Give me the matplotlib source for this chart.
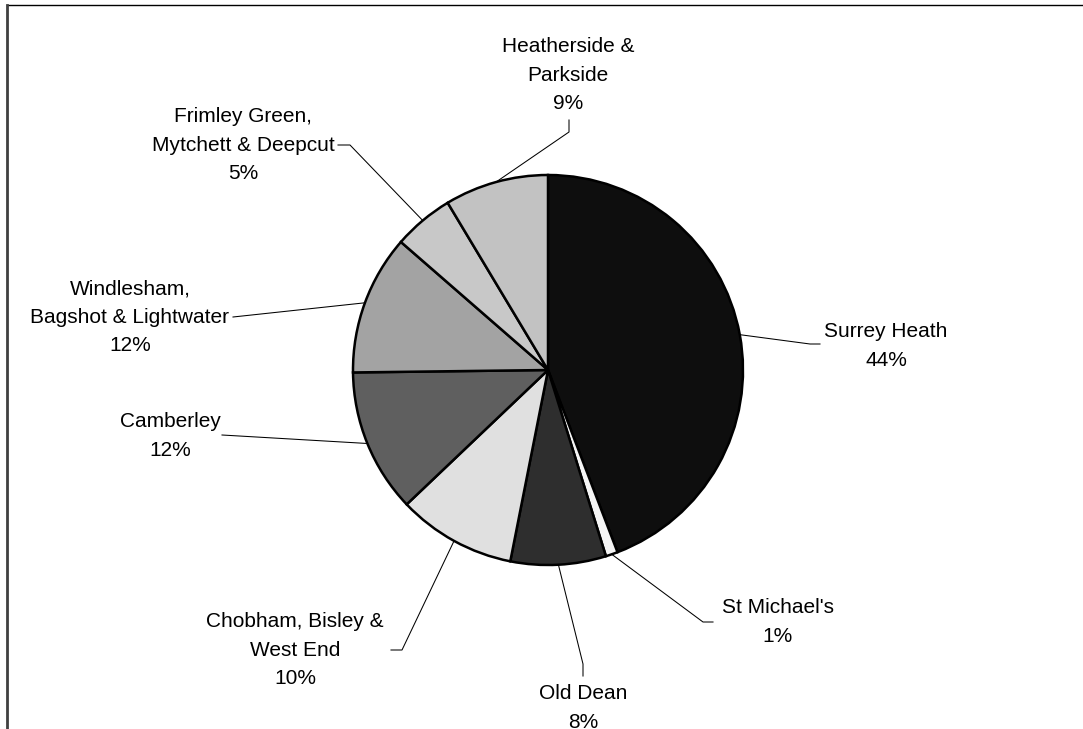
import matplotlib
matplotlib.use("Agg")
import matplotlib.pyplot as plt
import numpy as np
from matplotlib.lines import Line2D

# ward shares (percent), clockwise from 12 o'clock
wards = ["Surrey Heath", "St Michael's", "Old Dean", "Chobham, Bisley &\nWest End",
         "Camberley", "Windlesham,\nBagshot & Lightwater", "Frimley Green,\nMytchett & Deepcut",
         "Heatherside &\nParkside"]
shares = [44.2, 1.0, 7.9, 9.8, 11.9, 11.6, 5.0, 8.6]
greys = ["#0e0e0e", "#f4f4f4", "#2e2e2e", "#e0e0e0", "#5f5f5f", "#a3a3a3", "#c8c8c8", "#c2c2c2"]

W, H = 1083, 729
fig = plt.figure(figsize=(W / 100, H / 100), dpi=100)
ax = fig.add_axes([0, 0, 1, 1])

cx, cy, r = 548, 370, 195
# y axis is inverted below, so counterclock in data = clockwise on screen
wedges, _ = ax.pie(shares, colors=greys, startangle=270, counterclock=True,
                   center=(cx, cy), radius=r, frame=True,
                   wedgeprops=dict(edgecolor="black", linewidth=1.8))
ax.set_xlim(0, W)
ax.set_ylim(H, 0)  # pixel-like coordinates, y down
ax.set_aspect("equal")
ax.axis("off")

# label layout: text centre, elbow point, end of short tick next to the text
layout = [
    ((886, 346), (810, 344), (820, 344)),
    ((778, 622), (703, 622), (713, 622)),
    ((583, 708), (583, 664), (583, 676)),
    ((295, 650), (402, 650), (391, 650)),
    ((170, 436), None, (222, 435)),
    ((130, 317), None, (233, 317)),
    ((243, 145), (350, 145), (338, 145)),
    ((568, 75), (569, 132), (569, 120)),
]

for w, name, val, (txt, elbow, tick) in zip(wedges, wards, shares, layout):
    mid = np.deg2rad((w.theta1 + w.theta2) / 2)
    px, py = cx + r * np.cos(mid), cy + r * np.sin(mid)
    if elbow is None:
        xs, ys = [px, tick[0]], [py, tick[1]]
    else:
        xs, ys = [px, elbow[0], tick[0]], [py, elbow[1], tick[1]]
    ax.add_line(Line2D(xs, ys, color="black", linewidth=0.75))
    ax.text(txt[0], txt[1], f"{name}\n{val:.0f}%", ha="center", va="center",
            fontsize=15, family="Liberation Sans", linespacing=1.62)

# chart area border (only top and left visible)
fig.add_artist(Line2D([7 / W, 1], [1 - 5 / H, 1 - 5 / H], color="black", linewidth=1,
                      transform=fig.transFigure))
fig.add_artist(Line2D([7 / W, 7 / W], [0, 1 - 5 / H], color="#404040", linewidth=2,
                      transform=fig.transFigure))

fig.savefig("out.png", dpi=100)
